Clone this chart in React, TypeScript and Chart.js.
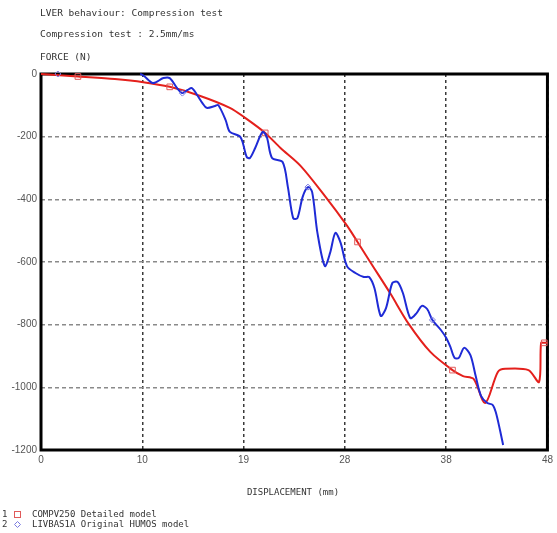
import { useEffect, useRef } from "react";
import { Chart, registerables } from "chart.js";

Chart.register(...registerables);

const titleLine1 = "LVER behaviour: Compression test";
const titleLine2 = "Compression test : 2.5mm/ms";
const yAxisTitle = "FORCE (N)";
const xAxisTitle = "DISPLACEMENT (mm)";
const seriesNames = ["COMPV250 Detailed model", "LIVBAS1A Original HUMOS model"];

const xTickValues = [0, 9.6, 19.2, 28.8, 38.4, 48];
const xTickLabels = ["0", "10", "19", "28", "38", "48"];
const yTickValues = [0, -200, -400, -600, -800, -1000, -1200];

// Series 1: COMPV250 Detailed model (red)
const compX = [0, 3.5, 7, 9.7, 12.2, 15.1, 17.9, 19.35, 21.25, 22.7, 24.6, 26.9, 29.0, 30.0, 31.2, 33.1, 34.8, 36.9, 39.0, 40.0, 41.0, 42.1, 43.3, 44.0, 46.2, 47.2, 47.4, 47.7, 48.0];
const compY = [0, -8, -16, -26, -41, -70, -108, -140, -188, -236, -293, -389, -484, -536, -600, -700, -795, -887, -945, -964, -973, -1050, -951, -941, -945, -983, -858, -858, -858];
const compMarkerX = [3.5, 12.2, 21.25, 30.0, 39.0, 47.7];

// Series 2: LIVBAS1A Original HUMOS model (blue)
const humosX = [0, 1.6, 9.4, 10.6, 11.6, 12.2, 12.9, 13.4, 13.9, 14.3, 14.8, 15.3, 15.7, 16.5, 16.8, 17.5, 17.9, 18.9, 19.5, 19.8, 20.3, 21.0, 21.4, 21.9, 22.9, 23.4, 23.9, 24.3, 24.8, 25.3, 25.7, 26.2, 26.9, 27.4, 27.9, 28.4, 29.0, 29.8, 30.6, 31.1, 31.6, 32.2, 32.7, 33.3, 33.8, 34.3, 35.0, 35.6, 36.1, 36.6, 37.1, 37.9, 38.4, 38.8, 39.2, 39.6, 40.1, 40.7, 41.2, 41.7, 42.3, 42.8, 43.1, 43.5, 43.8];
const humosY = [0, 0, 0, -29, -13, -13, -45, -61, -51, -45, -67, -93, -108, -102, -99, -147, -185, -201, -265, -268, -236, -185, -201, -268, -281, -361, -460, -460, -392, -361, -377, -507, -613, -571, -507, -539, -613, -635, -648, -648, -683, -772, -747, -667, -664, -699, -779, -763, -740, -750, -785, -817, -842, -871, -906, -906, -874, -897, -964, -1027, -1050, -1056, -1079, -1136, -1184];
const humosMarkerX = [1.6, 13.4, 25.3, 37.1];

const RED = "#e4201c";
const RED_MARK = "#e05a5a";
const BLUE = "#1f2bd6";
const BLUE_MARK = "#7a7ae0";
const MONO = "'DejaVu Sans Mono', 'Liberation Mono', monospace";

const textPlugin = {
  id: "customTexts",
  beforeDatasetsDraw(chart: any) {
    const { ctx, chartArea } = chart;
    ctx.save();
    ctx.strokeStyle = "#000";
    ctx.lineWidth = 3;
    ctx.strokeRect(chartArea.left, chartArea.top, chartArea.right - chartArea.left, chartArea.bottom - chartArea.top);
    ctx.restore();
  },
  afterDraw(chart: any) {
    const { ctx } = chart;
    ctx.save();
    ctx.fillStyle = "#333";
    ctx.textBaseline = "middle";
    ctx.textAlign = "left";
    ctx.font = `9.5px ${MONO}`;
    ctx.fillText(titleLine1, 40, 14);
    ctx.fillText(titleLine2, 40, 35);
    ctx.fillText(yAxisTitle, 40, 58);
    ctx.font = `9px ${MONO}`;
    ctx.textAlign = "center";
    ctx.fillText(xAxisTitle, 293, 493);
    ctx.textAlign = "left";
    ctx.fillText("1", 2, 515);
    ctx.fillText(seriesNames[0], 32, 515);
    ctx.fillText("2", 2, 525);
    ctx.fillText(seriesNames[1], 32, 525);
    // legend symbols
    ctx.lineWidth = 1;
    ctx.strokeStyle = RED_MARK;
    ctx.strokeRect(14.5, 511.5, 6, 6);
    ctx.strokeStyle = BLUE_MARK;
    ctx.beginPath();
    ctx.moveTo(17.5, 521.5);
    ctx.lineTo(20.5, 524.5);
    ctx.lineTo(17.5, 527.5);
    ctx.lineTo(14.5, 524.5);
    ctx.closePath();
    ctx.stroke();
    ctx.restore();
  },
};

export default function App() {
  const canvasRef = useRef<HTMLCanvasElement | null>(null);

  useEffect(() => {
    const canvas = canvasRef.current;
    if (!canvas) return;
    const compSet = new Set(compMarkerX);
    const humosSet = new Set(humosMarkerX);
    const chart = new Chart(canvas, {
      type: "line",
      data: {
        datasets: [
          {
            label: seriesNames[0],
            data: compX.map((x, i) => ({ x, y: compY[i] })),
            borderColor: RED,
            borderWidth: 2,
            backgroundColor: "rgba(0,0,0,0)",
            tension: 0.3,
            pointStyle: "rect",
            pointRadius: (c: any) => (compSet.has(c.raw?.x) ? 4 : 0),
            pointBorderColor: RED_MARK,
            pointBackgroundColor: "rgba(0,0,0,0)",
            pointBorderWidth: 1,
            pointHoverRadius: 0,
            clip: 6,
            order: 2,
          },
          {
            label: seriesNames[1],
            data: humosX.map((x, i) => ({ x, y: humosY[i] })),
            borderColor: BLUE,
            borderWidth: 2,
            backgroundColor: "rgba(0,0,0,0)",
            tension: 0.3,
            segment: {
              borderColor: (s: any) => (s.p1.parsed.x <= 9.4 ? "rgba(0,0,0,0)" : BLUE),
            },
            pointStyle: "rectRot",
            pointRadius: (c: any) => (humosSet.has(c.raw?.x) ? 3 : 0),
            pointBorderColor: BLUE_MARK,
            pointBackgroundColor: "rgba(0,0,0,0)",
            pointBorderWidth: 1,
            pointHoverRadius: 0,
            clip: 6,
            order: 1,
          },
        ],
      },
      options: {
        responsive: false,
        animation: false,
        devicePixelRatio: 1,
        events: [],
        layout: { padding: { top: 74, right: 9, bottom: 63, left: 0 } },
        plugins: {
          legend: { display: false },
          title: { display: false },
          tooltip: { enabled: false },
        },
        scales: {
          x: {
            type: "linear",
            min: 0,
            max: 48,
            afterBuildTicks: (scale: any) => {
              scale.ticks = xTickValues.map((v) => ({ value: v }));
            },
            afterFit: (scale: any) => {
              scale.height = 20;
            },
            ticks: {
              autoSkip: false,
              maxRotation: 0,
              padding: 4,
              color: "#555",
              font: { family: "'Liberation Sans', Arial, sans-serif", size: 10 },
              callback: (v: any) => {
                const i = xTickValues.indexOf(Number(v));
                return i >= 0 ? xTickLabels[i] : "";
              },
            },
            grid: { color: "#3a3a3a", lineWidth: 1.5, drawTicks: false },
            border: { display: false, dash: [3, 3] },
          },
          y: {
            type: "linear",
            min: -1200,
            max: 0,
            afterBuildTicks: (scale: any) => {
              scale.ticks = yTickValues.map((v) => ({ value: v }));
            },
            afterFit: (scale: any) => {
              scale.width = 41;
            },
            ticks: {
              padding: 4,
              color: "#555",
              font: { family: "'Liberation Sans', Arial, sans-serif", size: 10 },
              callback: (v: any) => String(v),
            },
            grid: { color: "#8a8a8a", lineWidth: 1.5, drawTicks: false },
            border: { display: false, dash: [4, 3] },
          },
        },
      },
      plugins: [textPlugin],
    } as any);
    return () => chart.destroy();
  }, []);

  return (
    <div style={{ position: "fixed", left: 0, top: 0, width: 557, height: 533, background: "#fff" }}>
      <canvas ref={canvasRef} width={557} height={533} />
    </div>
  );
}
